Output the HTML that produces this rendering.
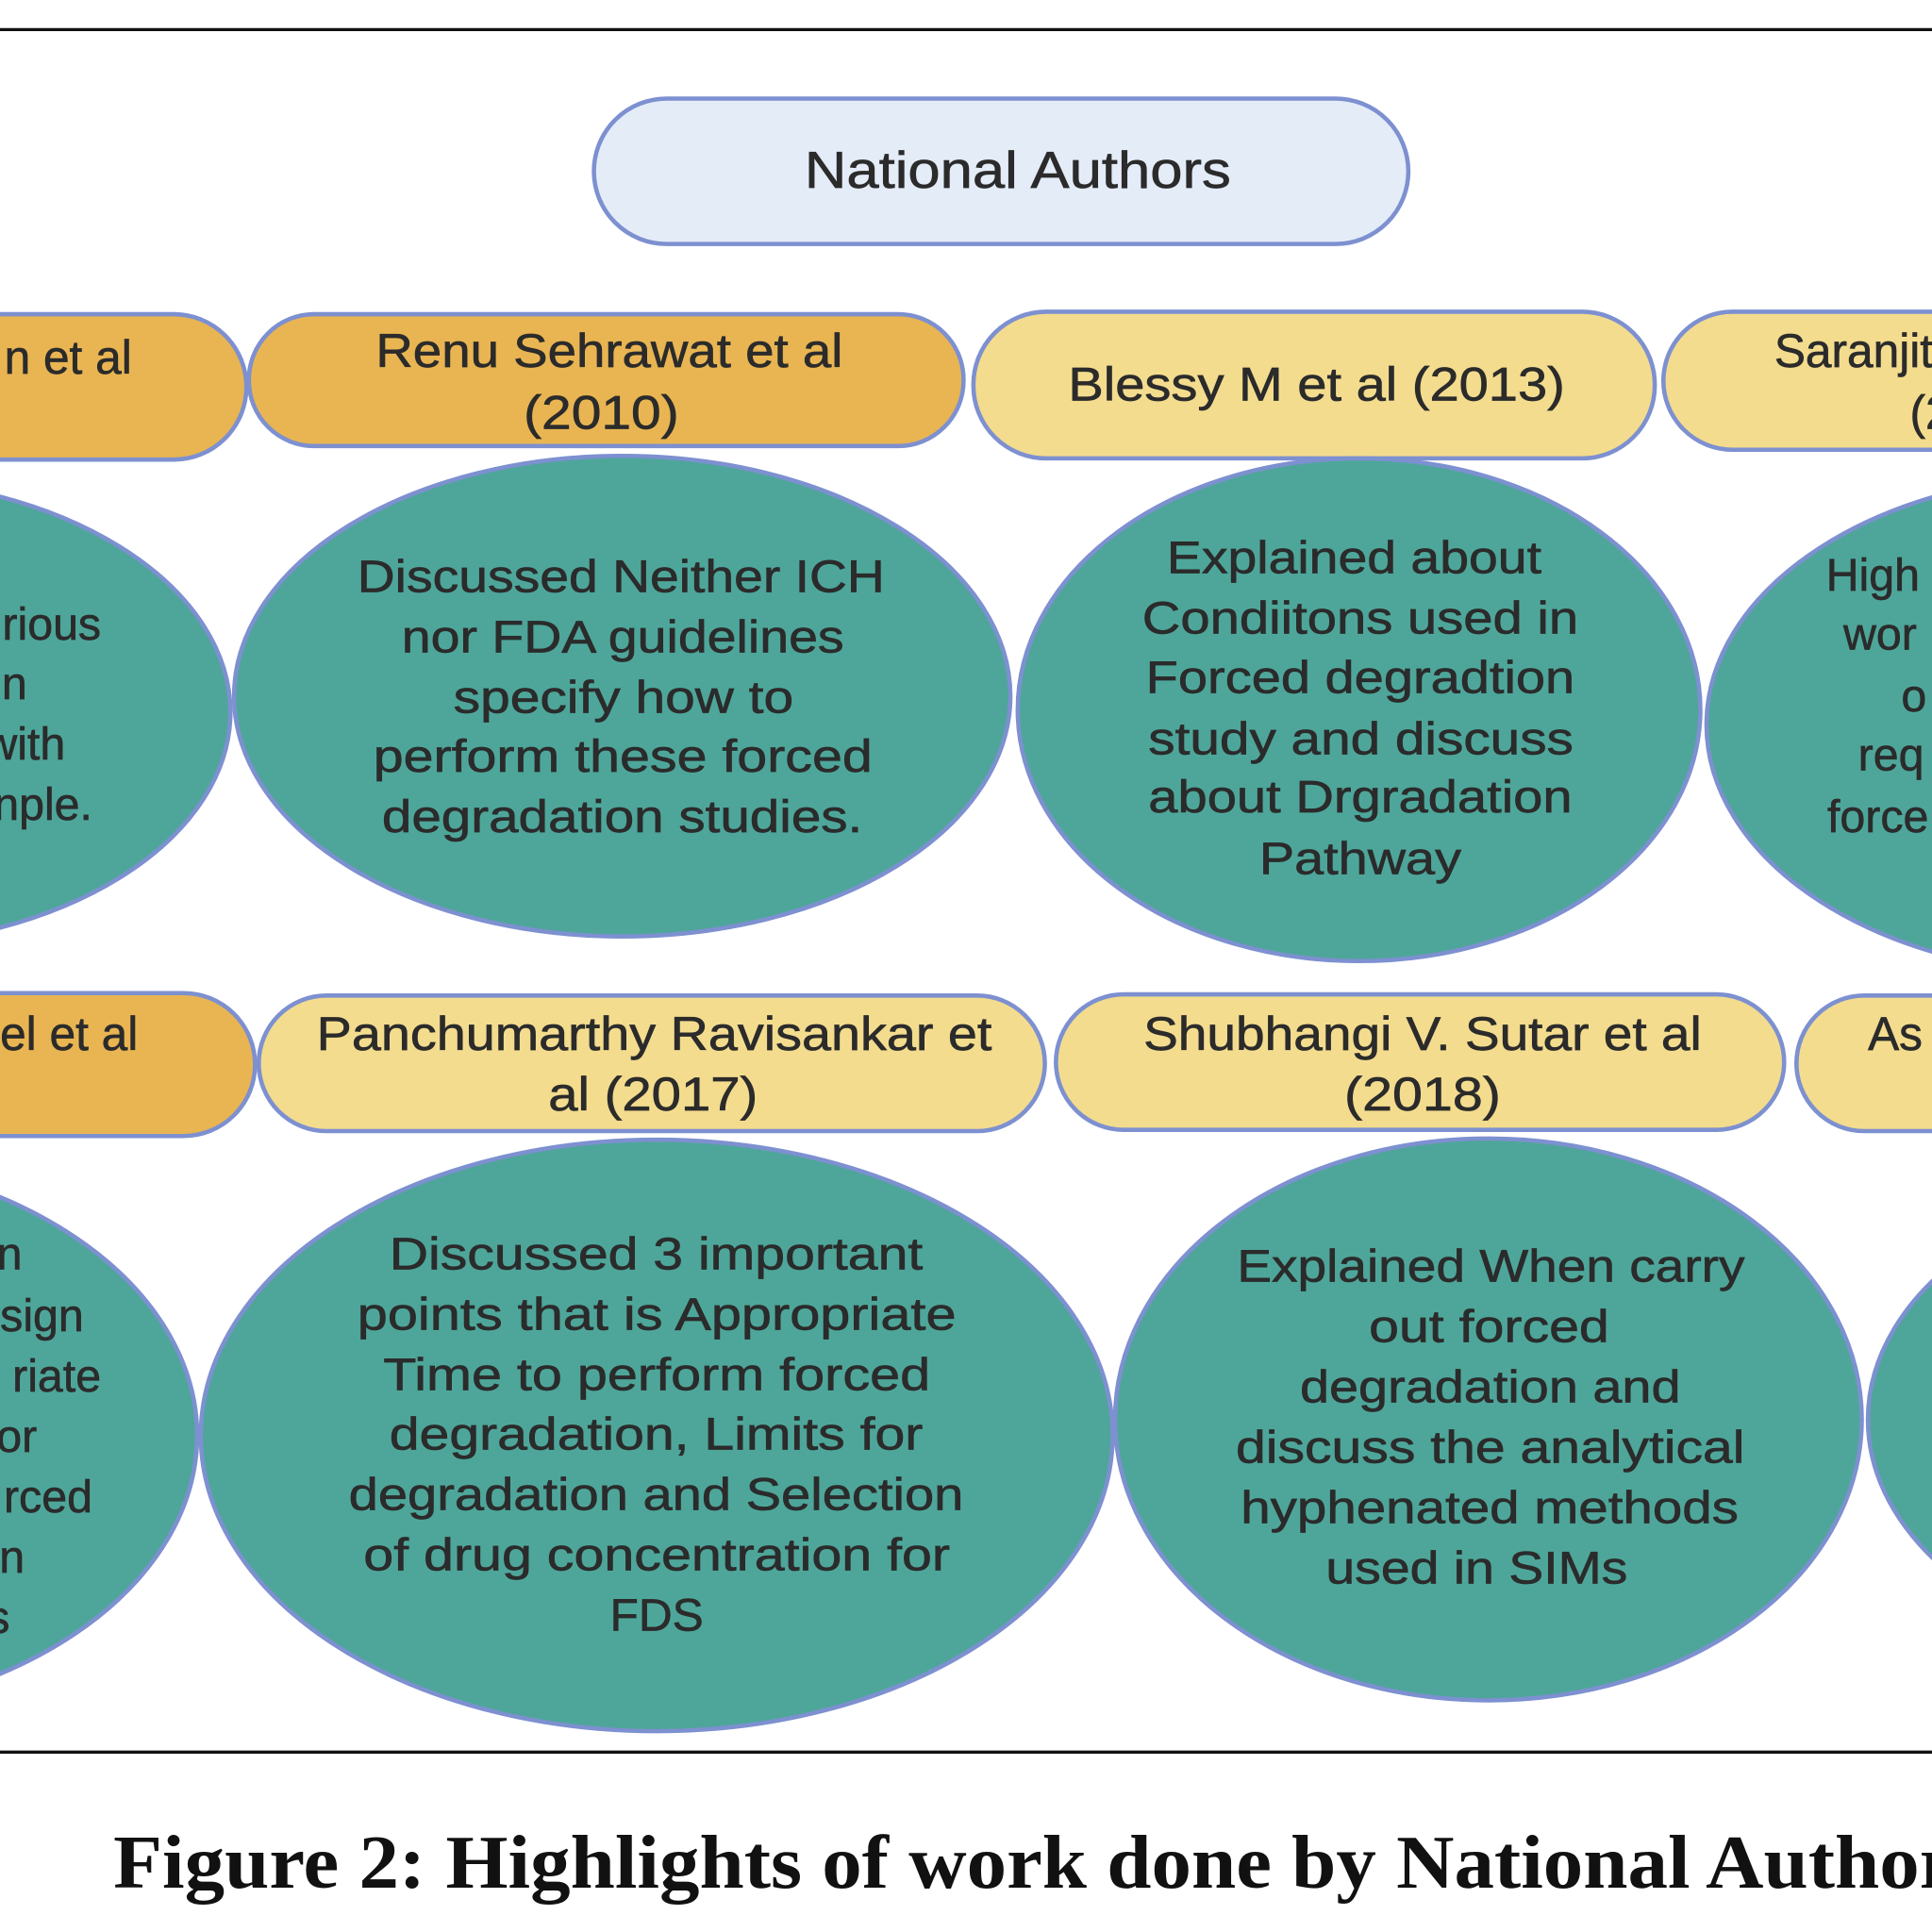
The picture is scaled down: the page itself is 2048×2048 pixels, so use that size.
<!DOCTYPE html>
<html><head><meta charset="utf-8"><style>html,body{margin:0;padding:0;background:#fff;}svg{display:block}</style></head>
<body>
<svg width="2048" height="2048" viewBox="0 0 1568 1568" xmlns="http://www.w3.org/2000/svg">
<rect width="1568" height="1568" fill="#fff"/>
<line x1="0" y1="24" x2="1568" y2="24" stroke="#111" stroke-width="2.5"/>
<line x1="0" y1="1422" x2="1568" y2="1422" stroke="#111" stroke-width="2.5"/>
<g stroke="#7d90d0" stroke-width="3.5">
<rect x="482" y="80" width="661" height="118" rx="59" fill="#e4ecf8"/>
<rect x="-100" y="255" width="300" height="118" rx="59" fill="#e9b552"/>
<rect x="202" y="255" width="580" height="107" rx="53" fill="#e9b552"/>
<rect x="790" y="253" width="553" height="119" rx="59" fill="#f3dc8e"/>
<rect x="1350" y="253" width="360" height="112" rx="56" fill="#f3dc8e"/>
<rect x="-100" y="806" width="307" height="116" rx="58" fill="#e9b552"/>
<rect x="210" y="808" width="638" height="110" rx="55" fill="#f3dc8e"/>
<rect x="857" y="807" width="591" height="110" rx="55" fill="#f3dc8e"/>
<rect x="1458" y="808" width="360" height="110" rx="55" fill="#f3dc8e"/>
<ellipse cx="-120" cy="578" rx="307" ry="190" fill="#4ea69a"/>
<ellipse cx="505" cy="565" rx="315" ry="195" fill="#4ea69a"/>
<ellipse cx="1103" cy="576" rx="277" ry="204" fill="#4ea69a"/>
<ellipse cx="1700" cy="588" rx="315" ry="203" fill="#4ea69a"/>
<ellipse cx="-180" cy="1165" rx="340" ry="228" fill="#4ea69a"/>
<ellipse cx="533" cy="1165" rx="370" ry="240" fill="#4ea69a"/>
<ellipse cx="1208" cy="1152" rx="303" ry="228" fill="#4ea69a"/>
<ellipse cx="1820" cy="1152" rx="304" ry="200" fill="#4ea69a"/>
</g>
<g font-family="Liberation Sans, sans-serif" fill="#2b2b2b" stroke="#2b2b2b" stroke-width="0.5" dominant-baseline="central">
<text x="826" y="138" font-size="42" text-anchor="middle" textLength="346" lengthAdjust="spacingAndGlyphs">National Authors</text>
<g font-size="38">
<text x="107" y="290" text-anchor="end">n et al</text>
<text x="305" y="285" textLength="379" lengthAdjust="spacingAndGlyphs">Renu Sehrawat et al</text>
<text x="425" y="335" textLength="126" lengthAdjust="spacingAndGlyphs">(2010)</text>
<text x="867" y="312" textLength="403" lengthAdjust="spacingAndGlyphs">Blessy M et al (2013)</text>
<text x="1440" y="285">Saranjit</text>
<text x="1550" y="335">(2</text>
<text x="112" y="839" text-anchor="end">el et al</text>
<text x="257" y="839" textLength="548" lengthAdjust="spacingAndGlyphs">Panchumarthy Ravisankar et</text>
<text x="445" y="888" textLength="170" lengthAdjust="spacingAndGlyphs">al (2017)</text>
<text x="928" y="839" textLength="453" lengthAdjust="spacingAndGlyphs">Shubhangi V. Sutar et al</text>
<text x="1091" y="888" textLength="127" lengthAdjust="spacingAndGlyphs">(2018)</text>
<text x="1516" y="839">As</text>
</g>
<g font-size="37">
<text x="82" y="507" text-anchor="end">rious</text>
<text x="22" y="555" text-anchor="end">n</text>
<text x="53" y="604" text-anchor="end">with</text>
<text x="75" y="653" text-anchor="end">nple.</text>
<text x="290" y="468" textLength="428" lengthAdjust="spacingAndGlyphs">Discussed Neither ICH</text>
<text x="326" y="517" textLength="359" lengthAdjust="spacingAndGlyphs">nor FDA guidelines</text>
<text x="368" y="566" textLength="276" lengthAdjust="spacingAndGlyphs">specify how to</text>
<text x="303" y="614" textLength="405" lengthAdjust="spacingAndGlyphs">perform these forced</text>
<text x="310" y="663" textLength="390" lengthAdjust="spacingAndGlyphs">degradation studies.</text>
<text x="947" y="453" textLength="304" lengthAdjust="spacingAndGlyphs">Explained about</text>
<text x="927" y="502" textLength="354" lengthAdjust="spacingAndGlyphs">Condiitons used in</text>
<text x="930" y="550" textLength="348" lengthAdjust="spacingAndGlyphs">Forced degradtion</text>
<text x="932" y="600" textLength="345" lengthAdjust="spacingAndGlyphs">study and discuss</text>
<text x="932" y="647" textLength="344" lengthAdjust="spacingAndGlyphs">about Drgradation</text>
<text x="1022" y="697" textLength="164" lengthAdjust="spacingAndGlyphs">Pathway</text>
<text x="1482" y="467">High</text>
<text x="1496" y="515">wor</text>
<text x="1543" y="565">o</text>
<text x="1508" y="613">req</text>
<text x="1483" y="663">force</text>
<text x="18" y="1018" text-anchor="end">n</text>
<text x="68" y="1068" text-anchor="end">sign</text>
<text x="82" y="1117" text-anchor="end">riate</text>
<text x="30" y="1166" text-anchor="end">or</text>
<text x="75" y="1215" text-anchor="end">rced</text>
<text x="20" y="1264" text-anchor="end">n</text>
<text x="8" y="1313" text-anchor="end">s</text>
<text x="316" y="1018" textLength="433" lengthAdjust="spacingAndGlyphs">Discussed 3 important</text>
<text x="290" y="1067" textLength="486" lengthAdjust="spacingAndGlyphs">points that is Appropriate</text>
<text x="311" y="1116" textLength="444" lengthAdjust="spacingAndGlyphs">Time to perform forced</text>
<text x="316" y="1164" textLength="433" lengthAdjust="spacingAndGlyphs">degradation, Limits for</text>
<text x="283" y="1213" textLength="499" lengthAdjust="spacingAndGlyphs">degradation and Selection</text>
<text x="295" y="1262" textLength="476" lengthAdjust="spacingAndGlyphs">of drug concentration for</text>
<text x="495" y="1311" textLength="76" lengthAdjust="spacingAndGlyphs">FDS</text>
<text x="1004" y="1028" textLength="412" lengthAdjust="spacingAndGlyphs">Explained When carry</text>
<text x="1111" y="1077" textLength="195" lengthAdjust="spacingAndGlyphs">out forced</text>
<text x="1055" y="1126" textLength="309" lengthAdjust="spacingAndGlyphs">degradation and</text>
<text x="1003" y="1175" textLength="413" lengthAdjust="spacingAndGlyphs">discuss the analytical</text>
<text x="1007" y="1224" textLength="404" lengthAdjust="spacingAndGlyphs">hyphenated methods</text>
<text x="1076" y="1273" textLength="245" lengthAdjust="spacingAndGlyphs">used in SIMs</text>
</g>
</g>
<text x="92" y="1532" font-family="Liberation Serif, serif" font-weight="bold" font-size="62" fill="#111" textLength="1520" lengthAdjust="spacingAndGlyphs">Figure 2: Highlights of work done by National Authors</text>
</svg>
</body></html>
